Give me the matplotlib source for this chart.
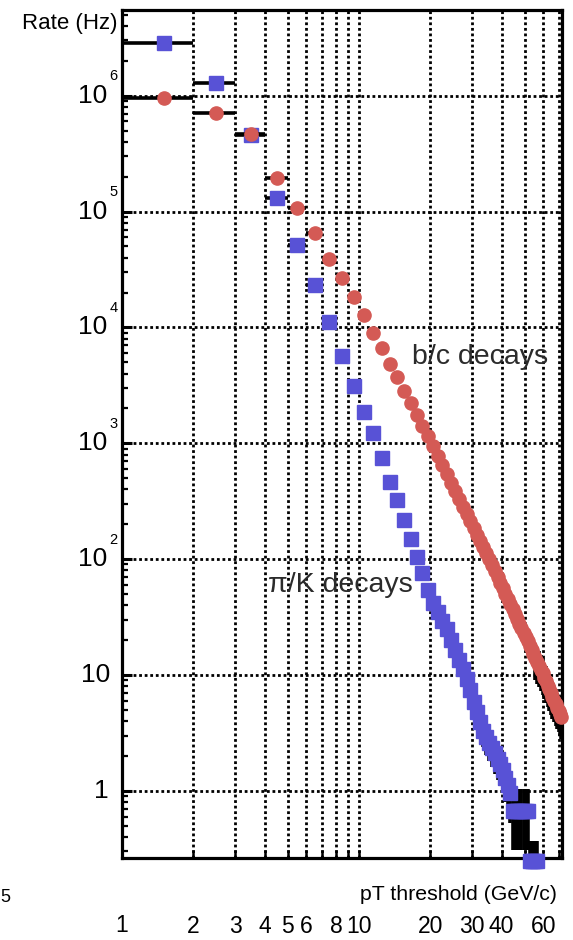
import numpy as np
import matplotlib
matplotlib.use("Agg")
import matplotlib.pyplot as plt
from matplotlib import transforms

plt.rcParams['font.family'] = ['Liberation Sans', 'DejaVu Sans']

# bin centres (1 GeV/c bins)
blue_pt = np.arange(1.5, 57.0, 1.0)
red_pt = np.arange(1.5, 72.0, 1.0)

# pi/K decays (Hz)
blue_rate = [2.87e6, 1.30e6, 4.6e5, 1.31e5, 5.1e4, 2.33e4, 1.12e4, 5.7e3, 3.1e3,
             1850, 1230, 750, 465, 325, 218, 148, 105, 76, 54,
             42, 35, 29, 25, 20, 16.5, 13.5, 11.2, 9.2, 7.4,
             5.9, 4.8, 3.9, 3.3, 2.9, 2.6, 2.35, 2.1, 1.9, 1.7,
             1.5, 1.3, 1.12, 0.95] + [0.67] * 8 + [0.25] * 5
blue_err = [0] * 29 + [1.2, 1.1, 1.0, 0.9, 0.85, 0.8, 0.75, 0.7, 0.65, 0.6,
                       0.55, 0.5, 0.45, 0.42] + [0.36] * 8 + [0.12] * 5

# b/c decays (Hz)
red_rate = [9.6e5, 7.1e5, 4.7e5, 1.96e5, 1.08e5, 6.6e4, 3.9e4, 2.68e4, 1.84e4,
            1.29e4, 8900, 6600, 4800, 3700, 2850, 2220, 1760, 1420, 1160,
            946, 778, 646, 540, 455, 386, 330, 284, 245, 213,
            185, 163, 143, 126, 112, 99.6, 88.5, 78.6, 70, 62.5,
            56, 50.3, 45.3, 40.9, 37, 33.6, 30.5, 27.7, 25.3, 23.2,
            21.2, 19.5, 17.9, 16.4, 15.2, 14.0, 12.9, 12.0, 11.1, 10.3,
            9.5, 8.8, 8.1, 7.5, 7.0, 6.5, 6.0, 5.6, 5.2, 4.9,
            4.6, 4.3]
red_err = [0] * 54 + [4.9, 4.5, 4.2, 3.9, 3.6, 3.3, 3.1, 2.8, 2.6, 2.45,
                      2.3, 2.1, 2.0, 1.8, 1.7, 1.6, 1.5]

xticks_lab = [1, 2, 3, 4, 5, 6, 8, 10, 20, 30, 40, 60]
xgrid = [2, 3, 4, 5, 6, 7, 8, 9, 10, 20, 30, 40, 50, 60, 70]
ydecades = [1, 10, 1e2, 1e3, 1e4, 1e5, 1e6]

blue = '#5852d6'
red = '#d45a55'

W, H = 573, 940
fig = plt.figure(figsize=(W / 100, H / 100), dpi=100)
ax = fig.add_axes([122 / W, (H - 858) / H, 440 / W, 848 / H])
ax.set_xscale('log')
ax.set_yscale('log')
ax.set_xlim(1, 71.9)
ax.set_ylim(0.263, 5.5e6)

# dotted grid
for g in xgrid:
    ax.axvline(g, color='black', lw=2.0, ls=(0, (1, 1)), zorder=1)
for d in ydecades:
    ax.axhline(d, color='black', lw=2.0, ls=(0, (1, 1)), zorder=1)

# pi/K
ax.errorbar(blue_pt, blue_rate, xerr=0.5, yerr=blue_err, fmt='none',
            ecolor='black', elinewidth=2.6, capsize=0, zorder=2)
ax.plot(blue_pt, blue_rate, 's', color=blue, ms=9.5, mec=blue, clip_on=False, zorder=3)
# b/c
ax.errorbar(red_pt, red_rate, xerr=0.5, yerr=red_err, fmt='none',
            ecolor='black', elinewidth=2.6, capsize=0, zorder=4)
ax.plot(red_pt, red_rate, 'o', color=red, ms=9.5, mec=red, clip_on=False, zorder=5)

# axes frame
for s in ax.spines.values():
    s.set_linewidth(2.3)
ax.set_xticks(xgrid)
ax.set_xticklabels([str(v) if v in xticks_lab else '' for v in xgrid])
ax.set_xticks([], minor=True)
ax.tick_params(axis='x', which='major', direction='in', length=6, width=1.8,
               pad=41, labelsize=16.5, top=False)
ax.set_yticks(ydecades)
ax.set_yticklabels([])
ax.tick_params(axis='y', which='major', direction='in', length=7, width=2.2, right=False)
ax.tick_params(axis='y', which='minor', direction='in', length=4, width=1.6, right=False)

# y labels: 10 with exponent
trans = transforms.blended_transform_factory(ax.transAxes, ax.transData)
etr = transforms.offset_copy(trans, fig=fig, y=14, units='points')
for d in ydecades:
    k = int(round(np.log10(d)))
    if k == 0:
        ax.text(-0.031, d, '1', transform=trans, ha='right', va='center', fontsize=19)
    elif k == 1:
        ax.text(-0.027, d, '10', transform=trans, ha='right', va='center', fontsize=19)
    else:
        ax.text(-0.033, d, '10', transform=trans, ha='right', va='center', fontsize=19)
        ax.text(-0.028, d, str(k), transform=etr, ha='left', va='center', fontsize=10.5)

# x = 1 label at the axis start
ax.text(1, -0.0795, '1', transform=ax.get_xaxis_transform(), ha='center', va='center', fontsize=16.5)

ax.set_xlabel('pT threshold (GeV/c)', fontsize=15.3, ha='right', va='center')
ax.xaxis.set_label_coords(0.989, -0.0436)

fig.text(118 / W, 1 - 24 / H, 'Rate (Hz)', ha='right', va='center', fontsize=16)
fig.text(0, 1 - 898 / H, '5', ha='left', va='center', fontsize=13)

fig.text(480 / W, 1 - 357 / H, 'b/c decays', ha='center', va='center',
         fontsize=20.5, color='#2b2b2b')
fig.text(340 / W, 1 - 585 / H, '\u03c0/K decays', ha='center', va='center',
         fontsize=20.5, color='#2b2b2b')

fig.savefig('out.png', dpi=100)
